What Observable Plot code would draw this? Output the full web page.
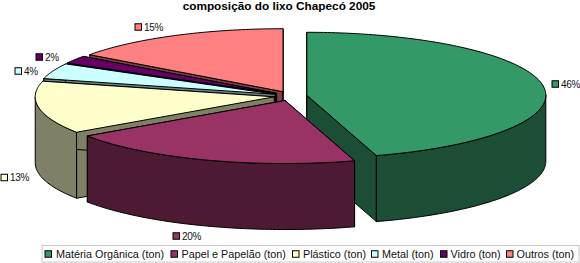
<!DOCTYPE html>
<html><head><meta charset="utf-8">
<script src="https://cdn.jsdelivr.net/npm/d3@7"></script>
<script src="https://cdn.jsdelivr.net/npm/@observablehq/plot@0.6"></script>
<style>html,body{margin:0;padding:0;background:#fff}svg{display:block}.pct text{letter-spacing:-.3px}</style>
</head><body><div id="chart"></div>
<script>
const title = "composição do lixo Chapecó 2005";
const categories = ["Matéria Orgânica (ton)","Papel e Papelão (ton)","Plástico (ton)","Metal (ton)","Vidro (ton)","Outros (ton)"];
const shares = [45.3,20.2,13.5,4,2,15];
const percentLabels = ["46%","20%","13%","4%","2%","15%"];
const topColors = ["#339966","#993366","#ffffcc","#ccffff","#660066","#ff8080"];
const wallColors = ["#1c4d35","#4d1a33","#808066","#668080","#330033","#804040"];

// layout
const W=580,H=263, cx=290, cy=95.5, rx=239, ry=63, depth=66, ex=16.5, ey=4.8;
const labelX=[552,173,1,15,36,135], labelY=[84,236,177.5,71,57,27];
const legendSwatchX=[45,171,292.5,371.5,440.5,506.5], legendTextX=[55.5,181,302.5,381.5,450,516];
const legendY=254;
const rad=d=>d*Math.PI/180, total=d3.sum(shares);
let acc=0;
const slices=shares.map((v,i)=>{const a0=acc/total*360;acc+=v;const a1=acc/total*360;
  const m=rad((a0+a1)/2);
  return {i,a0,a1,ax:cx+ex*Math.sin(m),ay:cy-ey*Math.cos(m)};});
const pt=(s,a,dz=0)=>({x:s.ax+rx*Math.sin(rad(a)),y:s.ay-ry*Math.cos(rad(a))+dz});
const arc=(s,a,b,dz=0)=>{const n=Math.max(2,Math.ceil(Math.abs(b-a)));return d3.range(n+1).map(k=>pt(s,a+(b-a)*k/n,dz));};
const poly=(pts,fill)=>Plot.line([...pts,pts[0]],{x:"x",y:"y",fill,stroke:"#000",strokeWidth:1,curve:"linear",strokeLinejoin:"round"});
const sliceMarks=s=>{
  const wall=wallColors[s.i], apex={x:s.ax,y:s.ay}, apexLow={x:s.ax,y:s.ay+depth};
  const out=[];
  [s.a0,s.a1].forEach(a=>{out.push(poly([apex,pt(s,a),pt(s,a,depth),apexLow],wall));});
  const f0=Math.max(s.a0,90), f1=Math.min(s.a1,270);
  if(f1>f0) out.push(poly([...arc(s,f0,f1),...arc(s,f1,f0,depth)],wall));
  out.push(poly([apex,...arc(s,s.a0,s.a1)],topColors[s.i]));
  return out;
};
const order=[5,4,3,2,0,1];
const swatch=(xs,ys,w,h)=>Plot.rect(categories.map((c,i)=>({x1:xs[i],x2:xs[i]+w,y1:ys[i]-h/2,y2:ys[i]+h/2,fill:topColors[i]})),{x1:"x1",x2:"x2",y1:"y1",y2:"y2",fill:d=>d.fill,stroke:"#000",strokeWidth:1});
const font="Liberation Sans, Arial, sans-serif";
const plot=Plot.plot({
  width:W,height:H,margin:0,style:{background:"#fff",fontFamily:font},
  x:{domain:[0,W],range:[0,W],axis:null},
  y:{domain:[0,H],range:[0,H],axis:null},
  marks:[
    ...order.flatMap(i=>sliceMarks(slices[i])),
    swatch(labelX,labelY,6.5,6.5),
    Plot.text(percentLabels,{x:(d,i)=>labelX[i]+8.5,y:(d,i)=>labelY[i],text:d=>d,textAnchor:"start",fontSize:10,fill:"#111",className:"pct"}),
    Plot.text([title],{x:()=>278.5,y:()=>5.5,text:d=>d,fontSize:11.8,fontWeight:"bold",fill:"#000"}),
    Plot.rect([0],{x1:()=>42,x2:()=>579,y1:()=>245.5,y2:()=>262,fill:"#fff",stroke:"#c8c8c8",strokeWidth:1}),
    swatch(legendSwatchX,categories.map(()=>legendY),6.5,6.5),
    Plot.text(categories,{x:(d,i)=>legendTextX[i],y:()=>legendY,text:d=>d,textAnchor:"start",fontSize:10.8,fill:"#111"})
  ]
});
document.getElementById("chart").append(plot);
</script></body></html>
